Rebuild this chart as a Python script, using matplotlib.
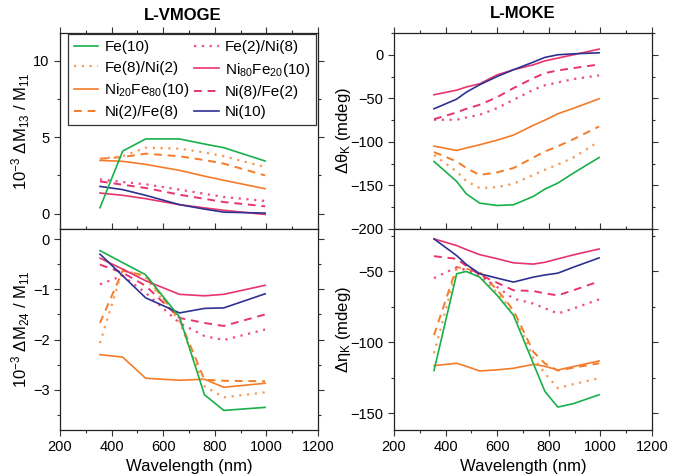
import matplotlib
matplotlib.use("Agg")
import matplotlib.pyplot as plt
from matplotlib.ticker import MultipleLocator

plt.rcParams['font.family'] = ['Liberation Sans', 'DejaVu Sans']
plt.rcParams['mathtext.fontset'] = 'custom'
plt.rcParams['mathtext.rm'] = 'Liberation Sans'
plt.rcParams['mathtext.it'] = 'Liberation Sans'

# ---------------- data ----------------
labels = ["Fe(10)", "Fe(8)/Ni(2)", "Ni$_{20}$Fe$_{80}$(10)", "Ni(2)/Fe(8)",
          "Fe(2)/Ni(8)", "Ni$_{80}$Fe$_{20}$(10)", "Ni(8)/Fe(2)", "Ni(10)"]

# L-VMOGE wavelengths (nm)
wl_v = [355, 443, 532, 663, 760, 835, 995]
m13_fe10    = [0.39, 4.09, 4.88, 4.88, 4.55, 4.31, 3.44]
m13_fe8ni2  = [3.59, 3.75, 4.31, 4.25, 4.00, 3.75, 3.05]
m13_ni20fe80 = [3.48, 3.42, 3.22, 2.83, 2.45, 2.18, 1.63]
m13_ni2fe8  = [3.59, 3.70, 3.92, 3.75, 3.50, 3.27, 2.50]
m13_fe2ni8  = [2.24, 2.07, 1.92, 1.57, 1.30, 1.09, 0.83]
m13_ni80fe20 = [1.35, 1.20, 0.98, 0.59, 0.38, 0.22, -0.05]
m13_ni8fe2  = [2.11, 1.89, 1.68, 1.24, 0.97, 0.76, 0.48]
m13_ni10    = [1.78, 1.57, 1.20, 0.59, 0.30, 0.10, 0.04]

m24_fe10    = [-0.23, -0.47, -0.71, -1.55, -3.10, -3.41, -3.35]
m24_fe8ni2  = [-2.07, -0.60, -0.77, -1.63, -2.93, -3.15, -3.05]
m24_ni20fe80 = [-2.30, -2.35, -2.77, -2.81, -2.79, -2.95, -2.87]
m24_ni2fe8  = [-1.67, -0.63, -0.73, -1.60, -2.80, -2.82, -2.83]
m24_fe2ni8  = [-0.90, -0.73, -1.07, -1.67, -1.93, -2.01, -1.80]
m24_ni80fe20 = [-0.38, -0.60, -0.83, -1.10, -1.13, -1.10, -0.92]
m24_ni8fe2  = [-0.51, -0.67, -0.93, -1.57, -1.67, -1.73, -1.50]
m24_ni10    = [-0.30, -0.73, -1.17, -1.47, -1.38, -1.37, -1.09]

# L-MOKE wavelengths (nm)
wl_k = [355, 443, 480, 532, 600, 663, 740, 785, 835, 895, 995]
th_fe10    = [-122.5, -145.4, -159.6, -170.3, -173.0, -172.2, -162.6, -154.2, -147.3, -135.9, -117.9]
th_fe8ni2  = [-115.0, -134.0, -145.0, -153.0, -152.0, -148.0, -138.0, -132.0, -126.0, -118.0, -99.5]
th_ni20fe80 = [-104.9, -109.8, -107.0, -103.3, -98.0, -92.2, -81.0, -75.0, -67.7, -61.5, -50.5]
th_ni2fe8  = [-111.7, -122.5, -130.0, -138.0, -135.0, -130.0, -118.0, -111.0, -105.0, -97.0, -82.3]
th_fe2ni8  = [-74.6, -74.6, -72.0, -68.9, -61.2, -51.7, -40.2, -35.0, -31.8, -27.9, -23.7]
th_ni80fe20 = [-45.9, -40.6, -37.0, -33.3, -23.0, -17.2, -11.5, -7.0, -3.8, 0.0, 6.5]
th_ni8fe2  = [-73.9, -66.2, -62.0, -57.4, -48.6, -38.3, -26.8, -21.0, -18.0, -15.3, -11.1]
th_ni10    = [-62.0, -50.9, -43.0, -34.4, -24.9, -17.2, -8.4, -3.0, 0.0, 1.1, 2.3]

eta_fe10    = [-120.0, -51.6, -50.0, -54.0, -66.9, -80.9, -115.0, -134.8, -145.8, -143.4, -137.1]
eta_fe8ni2  = [-107.8, -48.1, -49.0, -52.8, -65.0, -78.6, -111.0, -122.0, -132.4, -129.6, -125.4]
eta_ni20fe80 = [-116.5, -114.9, -117.0, -120.3, -119.5, -118.4, -115.6, -117.0, -119.6, -117.2, -113.2]
eta_ni2fe8  = [-95.0, -47.0, -48.0, -50.5, -63.0, -77.4, -106.7, -115.0, -120.0, -118.0, -114.9]
eta_fe2ni8  = [-54.7, -47.0, -49.0, -52.8, -61.0, -69.2, -72.7, -76.0, -79.7, -76.2, -69.7]
eta_ni80fe20 = [-27.0, -31.7, -34.5, -38.1, -41.0, -43.9, -44.8, -43.5, -41.1, -38.3, -34.1]
eta_ni8fe2  = [-39.2, -41.1, -46.0, -52.3, -58.0, -63.3, -63.8, -65.5, -66.9, -63.3, -57.0]
eta_ni10    = [-27.0, -38.8, -45.0, -51.6, -54.7, -57.5, -54.0, -52.5, -51.2, -47.0, -40.4]

# ---------------- styles ----------------
GREEN = "#18b04a"
ORANGE = "#f47b28"
ORANGE_L = "#f69a55"
PINK = "#e8336e"
PINK_L = "#ef4a8c"
BLUE = "#2e3192"
styles = [
    dict(color=GREEN, ls="-", lw=1.2),
    dict(color=ORANGE_L, ls=(0, (1, 2.5)), lw=1.6),
    dict(color=ORANGE, ls="-", lw=1.2),
    dict(color=ORANGE, ls=(0, (4, 3)), lw=1.4),
    dict(color=PINK_L, ls=(0, (1, 2.5)), lw=1.6),
    dict(color=PINK, ls="-", lw=1.2),
    dict(color=PINK, ls=(0, (4, 3)), lw=1.4),
    dict(color=BLUE, ls="-", lw=1.2),
]

fig = plt.figure(figsize=(6.85, 4.74), dpi=100)
W, H = 685.0, 474.0

def make_ax(x0, y0, x1, y1):
    return fig.add_axes([x0 / W, 1 - y1 / H, (x1 - x0) / W, (y1 - y0) / H])

ax_tl = make_ax(60, 33, 318, 229)
ax_bl = make_ax(60, 229, 318, 430)
ax_tr = make_ax(394, 33, 652, 229)
ax_br = make_ax(394, 229, 652, 430)

panels = [
    (ax_tl, wl_v, [m13_fe10, m13_fe8ni2, m13_ni20fe80, m13_ni2fe8, m13_fe2ni8, m13_ni80fe20, m13_ni8fe2, m13_ni10]),
    (ax_bl, wl_v, [m24_fe10, m24_fe8ni2, m24_ni20fe80, m24_ni2fe8, m24_fe2ni8, m24_ni80fe20, m24_ni8fe2, m24_ni10]),
    (ax_tr, wl_k, [th_fe10, th_fe8ni2, th_ni20fe80, th_ni2fe8, th_fe2ni8, th_ni80fe20, th_ni8fe2, th_ni10]),
    (ax_br, wl_k, [eta_fe10, eta_fe8ni2, eta_ni20fe80, eta_ni2fe8, eta_fe2ni8, eta_ni80fe20, eta_ni8fe2, eta_ni10]),
]

draw_order = [2, 3, 1, 4, 6, 5, 7, 0]
for ax, wl, series in panels:
    handles = [None] * 8
    for i in draw_order:
        h, = ax.plot(wl, series[i], label=labels[i], **styles[i])
        handles[i] = h
    ax.set_xlim(200, 1200)
    ax.xaxis.set_major_locator(MultipleLocator(200))
    ax.xaxis.set_minor_locator(MultipleLocator(100))
    ax.tick_params(which="both", direction="out", top=True, right=True,
                   labelsize=10.5, color="#333333", width=0.8)
    ax.tick_params(which="major", length=4)
    ax.tick_params(which="minor", length=2.5)
    for sp in ax.spines.values():
        sp.set_linewidth(0.9)
        sp.set_color("#222222")
    if ax is ax_tl:
        leg_handles = handles

ax_tl.set_ylim(-1, 11.8)
ax_tl.yaxis.set_major_locator(MultipleLocator(5))
ax_tl.yaxis.set_minor_locator(MultipleLocator(2.5))
ax_bl.set_ylim(-3.8, 0.2)
ax_bl.yaxis.set_major_locator(MultipleLocator(1))
ax_bl.yaxis.set_minor_locator(MultipleLocator(0.5))
ax_tr.set_ylim(-200, 25)
ax_tr.yaxis.set_major_locator(MultipleLocator(50))
ax_tr.yaxis.set_minor_locator(MultipleLocator(25))
ax_br.set_ylim(-162, -20)
ax_br.set_yticks([-50, -100, -150])
ax_br.yaxis.set_minor_locator(MultipleLocator(25))

for ax in (ax_tl, ax_tr):
    ax.tick_params(labelbottom=False)

ax_tl.set_ylabel("10$^{-3}$ $\\Delta$M$_{13}$ / M$_{11}$", fontsize=12, labelpad=1)
ax_bl.set_ylabel("10$^{-3}$ $\\Delta$M$_{24}$ / M$_{11}$", fontsize=12, labelpad=1)
ax_tr.set_ylabel("$\\Delta\\theta_{\\rm K}$ (mdeg)", fontsize=12, labelpad=-2)
ax_br.set_ylabel("$\\Delta\\eta_{\\rm K}$ (mdeg)", fontsize=12, labelpad=-2)
for ax in (ax_bl, ax_br):
    ax.set_xlabel("Wavelength (nm)", fontsize=12, labelpad=3)

fig.text(183 / W, 1 - 16 / H, "L-VMOGE", ha="center", va="center",
         fontsize=12, fontweight="bold")
fig.text(523 / W, 1 - 14 / H, "L-MOKE", ha="center", va="center",
         fontsize=12, fontweight="bold")

leg = ax_tl.legend(handles=leg_handles, ncol=2, loc="upper left",
                   bbox_to_anchor=(0.03, 0.995), borderaxespad=0.0,
                   fontsize=11, frameon=True,
                   fancybox=False, edgecolor="#333333", framealpha=1,
                   handlelength=1.6, handletextpad=0.4, columnspacing=0.3,
                   labelspacing=0.42, borderpad=0.4)
leg.get_frame().set_linewidth(0.9)

fig.savefig("out.png", dpi=100)
